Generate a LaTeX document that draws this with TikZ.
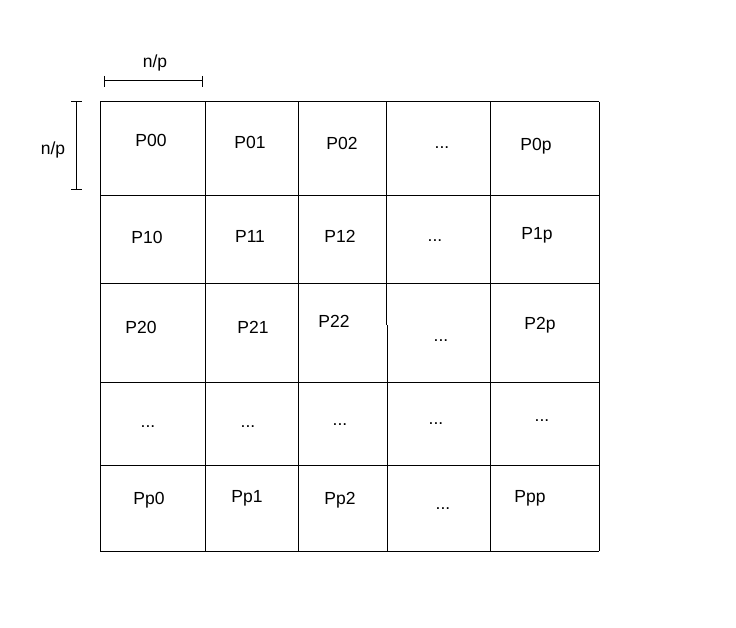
\documentclass[tikz,border=0pt]{standalone}
\usepackage{fontspec}
\setmainfont{Liberation Sans}
\begin{document}
\begin{tikzpicture}[x=1pt,y=-1pt,
  grid/.style={line width=1pt,black},
  lbl/.style={font=\fontsize{17.5}{19}\selectfont,inner sep=0pt},
  dim/.style={line width=1pt,black}]
\useasboundingbox[fill=white] (0,0) rectangle (736,628);
% grid
\foreach \x in {100,205,298,490,599} \draw[grid] (\x,102) -- (\x,551);
\draw[grid] (386,102) -- (386,325);
\draw[grid] (387,325) -- (387,551);
\foreach \y in {102,196,284,382,465,551} \draw[grid] (100,\y) -- (599,\y);
% dimension marks
\coordinate (ta) at (104,81); \coordinate (tb) at (202,81);
\draw[dim] (ta) -- (tb);
\draw[dim] (104,76) -- (104,87);
\draw[dim] (202,76) -- (202,87);
\node[lbl] (tn) at (155,63) {n/p};
\coordinate (la) at (76,102); \coordinate (lb) at (76,190);
\draw[dim] (la) -- (lb);
\draw[dim] (71,102) -- (82,102);
\draw[dim] (71,190) -- (82,190);
\node[lbl] (ln) at (53,150) {n/p};
% labels
\node[lbl] (p00) at (151,140) {P00};
\node[lbl] (p01) at (250,142) {P01};
\node[lbl] (p02) at (342,143) {P02};
\node[lbl] (p0d) at (442,148) {...};
\node[lbl] (p0p) at (536,146) {P0p};
\node[lbl] (p10) at (147,237) {P10};
\node[lbl] (p11) at (250,236) {P11};
\node[lbl] (p12) at (340,236) {P12};
\node[lbl] (p1d) at (435,241) {...};
\node[lbl] (p1p) at (537,235) {P1p};
\node[lbl] (p20) at (141,327) {P20};
\node[lbl] (p21) at (253,327) {P21};
\node[lbl] (p22) at (334,321) {P22};
\node[lbl] (p2d) at (441,341) {...};
\node[lbl] (p2p) at (540,325) {P2p};
\node[lbl] (pd0) at (148,427) {...};
\node[lbl] (pd1) at (248,427) {...};
\node[lbl] (pd2) at (340,425) {...};
\node[lbl] (pd3) at (436,424) {...};
\node[lbl] (pd4) at (542,421) {...};
\node[lbl] (pp0) at (149,500) {Pp0};
\node[lbl] (pp1) at (247,498) {Pp1};
\node[lbl] (pp2) at (340,500) {Pp2};
\node[lbl] (ppd) at (443,509) {...};
\node[lbl] (ppp) at (530,498) {Ppp};
\end{tikzpicture}
\end{document}
